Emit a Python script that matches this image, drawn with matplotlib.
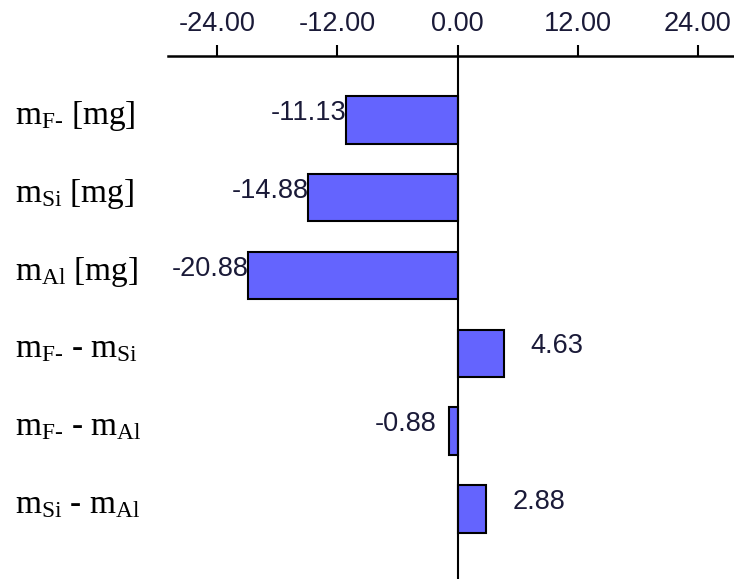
import matplotlib
matplotlib.use('Agg')
import matplotlib.pyplot as plt
import matplotlib.transforms as mtransforms

# Data
labels = [
    r'm$_\mathrm{F\text{-}}$ [mg]',
    r'm$_\mathrm{Si}$ [mg]',
    r'm$_\mathrm{Al}$ [mg]',
    r'm$_\mathrm{F\text{-}}$ - m$_\mathrm{Si}$',
    r'm$_\mathrm{F\text{-}}$ - m$_\mathrm{Al}$',
    r'm$_\mathrm{Si}$ - m$_\mathrm{Al}$',
]
values = [-11.13, -14.88, -20.88, 4.63, -0.88, 2.88]
x_ticks = [-24, -12, 0, 12, 24]

BAR_COLOR = '#6464fe'
TICK_COLOR = '#1a1a38'

plt.rcParams['mathtext.fontset'] = 'custom'
plt.rcParams['mathtext.rm'] = 'Liberation Serif'
plt.rcParams['mathtext.it'] = 'Liberation Serif:italic'

fig = plt.figure(figsize=(7.34, 5.79), dpi=100)
ax = fig.add_axes([168 / 734, 0.0, 1 - 168 / 734, 1 - 56 / 579])

ypos = list(range(len(values)))
ax.barh(ypos, values, height=0.61, color=BAR_COLOR, edgecolor='black', linewidth=1.5)
ax.axvline(0, color='black', linewidth=1.5)

ax.set_xlim(-28.9, 27.6)
ax.set_ylim(5.9, -0.82)

# axis on top
ax.xaxis.tick_top()
ax.set_xticks(x_ticks)
ax.set_xticklabels([f'{t:.2f}' for t in x_ticks], family='Liberation Sans')
ax.tick_params(axis='x', direction='out', length=8, width=1.5, pad=6,
               labelsize=19.5, labelcolor=TICK_COLOR, color='black')
ax.set_yticks([])
for side in ['left', 'right', 'bottom']:
    ax.spines[side].set_visible(False)
ax.spines['top'].set_linewidth(1.8)

# category labels on the left
trans = mtransforms.blended_transform_factory(fig.transFigure, ax.transData)
for y, lab in zip(ypos, labels):
    ax.text(15 / 734, y - 0.05, lab, transform=trans, ha='left', va='center',
            fontsize=24, family='Liberation Serif', clip_on=False)

# value labels
for y, v in zip(ypos, values):
    if v >= 0:
        ax.annotate(f'{v:.2f}', (v, y), xytext=(19, 5), textcoords='offset points',
                    ha='left', va='center', fontsize=19.5, color=TICK_COLOR,
                    family='Liberation Sans')
    else:
        off = -9 if abs(v) < 2 else 0
        ax.annotate(f'{v:.2f}', (v, y), xytext=(off, 5), textcoords='offset points',
                    ha='right', va='center', fontsize=19.5, color=TICK_COLOR,
                    family='Liberation Sans')

fig.savefig('out.png', dpi=100)
